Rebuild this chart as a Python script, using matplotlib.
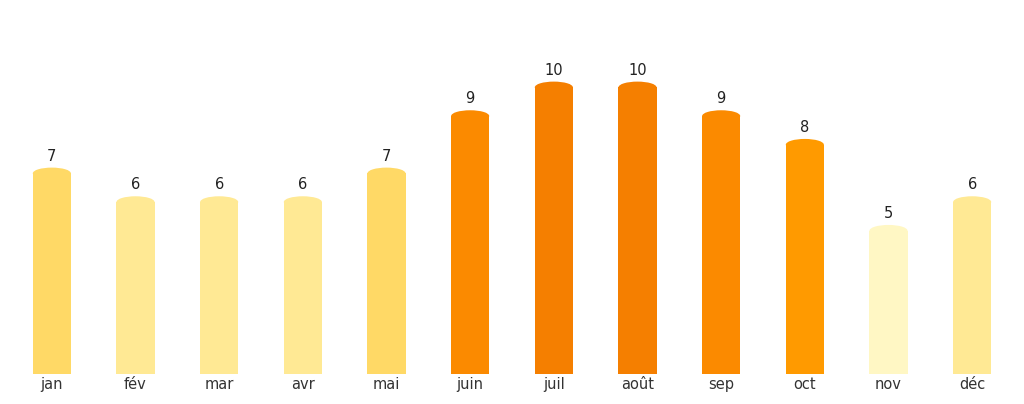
import matplotlib
matplotlib.use("Agg")
import matplotlib.pyplot as plt
from matplotlib.patches import Ellipse

months = ["jan", "fév", "mar", "avr", "mai", "juin", "juil", "août", "sep", "oct", "nov", "déc"]
values = [7, 6, 6, 6, 7, 9, 10, 10, 9, 8, 5, 6]
palette = {5: "#FFF7C4", 6: "#FFE994", 7: "#FFD966", 8: "#FF9A00", 9: "#FB8A00", 10: "#F57F00"}
colors = [palette[v] for v in values]

fig = plt.figure(figsize=(10.24, 4.04), dpi=100)
ax = fig.add_axes([10 / 1024, 30 / 404, 1004 / 1024, 344 / 404])

bw = 0.455
x = list(range(len(months)))
ax.bar(x, values, width=bw, color=colors, zorder=2)
for xi, v, c in zip(x, values, colors):
    ax.add_patch(Ellipse((xi, v), bw, 0.4, facecolor=c, edgecolor="none", zorder=2))
    ax.annotate(str(v), (xi, v), xytext=(0, 7), textcoords="offset points",
                ha="center", va="bottom", fontsize=10.5, color="#222222")

ax.set_xlim(-0.5, 11.5)
ax.set_ylim(0, 12)
ax.set_xticks(x)
ax.set_xticklabels(months, fontsize=10.5, color="#333333")
ax.tick_params(axis="x", length=0, pad=2)
ax.set_yticks([])
for s in ax.spines.values():
    s.set_visible(False)

fig.savefig("out.png", dpi=100)
